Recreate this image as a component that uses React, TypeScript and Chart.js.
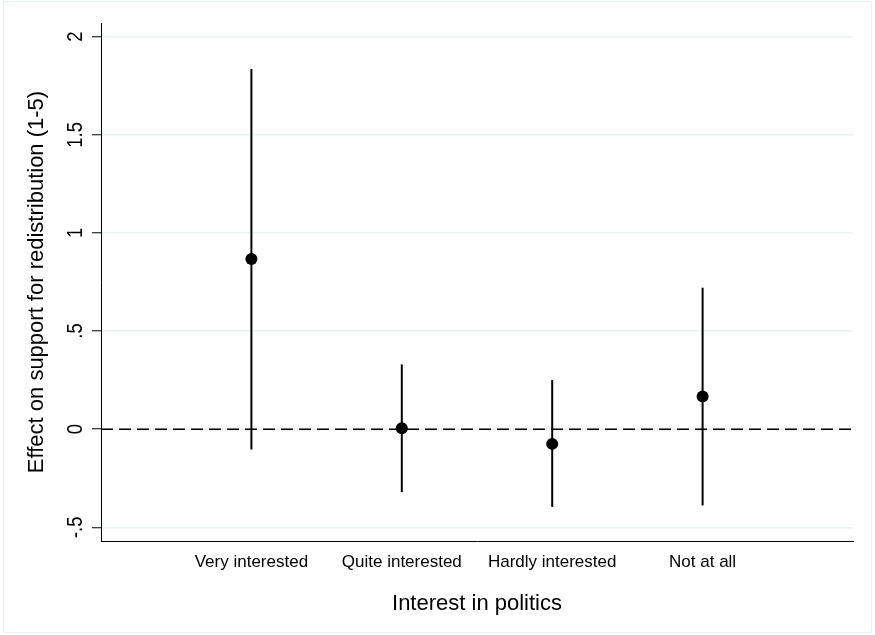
import { useEffect, useRef } from "react"
import { Chart, registerables } from "chart.js"

Chart.register(...registerables)

// Data
const categories = ["Very interested", "Quite interested", "Hardly interested", "Not at all"]
const estimates = [0.867, 0.005, -0.075, 0.167]
const ciLower = [-0.104, -0.321, -0.396, -0.389]
const ciUpper = [1.835, 0.33, 0.25, 0.721]

const yTickValues = [-0.5, 0, 0.5, 1, 1.5, 2]
const yTickLabels = ["-.5", "0", ".5", "1", "1.5", "2"]

const FONT = "'Liberation Sans', Arial, sans-serif"
const GRID = "rgb(234, 242, 243)"

// Vertical confidence interval lines
const ciPlugin = {
  id: "ciLines",
  beforeDatasetsDraw(chart: Chart) {
    const { ctx } = chart
    const xs = chart.scales.x
    const ys = chart.scales.y
    ctx.save()
    ctx.strokeStyle = "#000"
    ctx.lineWidth = 2
    categories.forEach((_, i) => {
      const x = xs.getPixelForValue(i + 1)
      ctx.beginPath()
      ctx.moveTo(x, ys.getPixelForValue(ciLower[i]))
      ctx.lineTo(x, ys.getPixelForValue(ciUpper[i]))
      ctx.stroke()
    })
    ctx.restore()
  },
}

// Stata-style rotated y tick labels (slightly condensed, like the original)
const yLabelPlugin = {
  id: "yLabels",
  afterDraw(chart: Chart) {
    const { ctx } = chart
    const ys = chart.scales.y
    ctx.save()
    ctx.fillStyle = "#000"
    ctx.font = `22px ${FONT}`
    ctx.textAlign = "center"
    ctx.textBaseline = "alphabetic"
    yTickValues.forEach((v, i) => {
      ctx.save()
      ctx.translate(82, ys.getPixelForValue(v))
      ctx.rotate(-Math.PI / 2)
      ctx.scale(0.84, 1)
      ctx.fillText(yTickLabels[i], 0, 0)
      ctx.restore()
    })
    ctx.restore()
  },
}

export default function App() {
  const chartRef = useRef<HTMLCanvasElement>(null)
  const chartInstance = useRef<Chart | null>(null)

  useEffect(() => {
    if (!chartRef.current) return
    if (chartInstance.current) chartInstance.current.destroy()
    const ctx = chartRef.current.getContext("2d")
    if (!ctx) return

    chartInstance.current = new Chart(ctx, {
      type: "scatter",
      data: {
        datasets: [
          {
            type: "line",
            label: "zero",
            data: [
              { x: 0, y: 0 },
              { x: 5, y: 0 },
            ],
            borderColor: "#000",
            borderWidth: 1.5,
            borderDash: [12, 6],
            pointRadius: 0,
            fill: false,
          },
          {
            label: "Effect",
            data: estimates.map((v, i) => ({ x: i + 1, y: v })),
            pointRadius: 6,
            pointBackgroundColor: "#000",
            pointBorderWidth: 0,
          },
        ],
      },
      options: {
        responsive: true,
        maintainAspectRatio: false,
        animation: false,
        layout: { padding: { top: 23, right: 22, left: 0, bottom: 0 } },
        plugins: {
          legend: { display: false },
          tooltip: { enabled: false },
        },
        scales: {
          x: {
            type: "linear",
            min: 0,
            max: 5,
            afterFit: (scale) => {
              scale.height = 94
            },
            afterBuildTicks: (scale) => {
              scale.ticks = categories.map((_, i) => ({ value: i + 1 }))
            },
            grid: { display: true, drawOnChartArea: false, drawTicks: false },
            border: { color: "#000", width: 1 },
            ticks: {
              padding: 11,
              color: "#000",
              font: { family: FONT, size: 17 },
              maxRotation: 0,
              autoSkip: false,
              callback: (v) => categories[Number(v) - 1] ?? "",
            },
            title: {
              display: true,
              text: "Interest in politics",
              color: "#000",
              font: { family: FONT, size: 22 },
              padding: { top: 0, bottom: 18 },
            },
          },
          y: {
            type: "linear",
            min: -0.57,
            max: 2.07,
            afterFit: (scale) => {
              scale.width = 101
            },
            afterBuildTicks: (scale) => {
              scale.ticks = yTickValues.map((v) => ({ value: v }))
            },
            grid: { color: GRID, lineWidth: 1.5, tickColor: "#000", tickLength: 9, tickWidth: 1 },
            border: { color: "#000", width: 1 },
            ticks: { display: false },
            title: {
              display: true,
              text: "Effect on support for redistribution (1-5)",
              color: "#000",
              font: { family: FONT, size: 22 },
              padding: { top: 24, bottom: 0 },
            },
          },
        },
      },
      plugins: [ciPlugin, yLabelPlugin],
    })

    return () => {
      if (chartInstance.current) {
        chartInstance.current.destroy()
        chartInstance.current = null
      }
    }
  }, [])

  return (
    <div style={{ position: "fixed", left: 0, top: 0, width: 875, height: 635, background: "#fff" }}>
      <div
        style={{
          position: "absolute",
          left: 3,
          top: 1,
          width: 869,
          height: 632,
          border: `1px solid ${GRID}`,
          boxSizing: "border-box",
        }}
      />
      <div style={{ position: "absolute", left: 0, top: 0, width: 875, height: 635 }}>
        <canvas ref={chartRef} aria-label="Effect on support for redistribution by interest in politics"></canvas>
      </div>
    </div>
  )
}
